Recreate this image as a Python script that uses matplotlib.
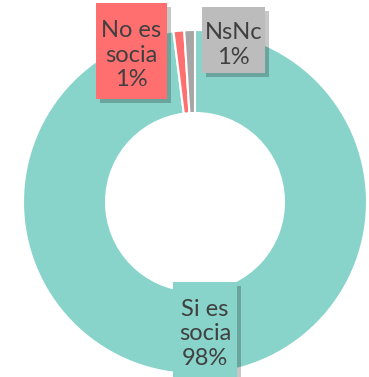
import matplotlib.pyplot as plt
import matplotlib.patheffects as pe
from matplotlib.patches import Rectangle

# share of respondents by membership
categories = ["Si es socia", "No es socia", "NsNc"]
shares = [98, 1, 1]
pct_labels = ["98%", "1%", "1%"]
wedge_colors = ["#88d4ca", "#ff6f6f", "#a6a6a6"]
box_colors = ["#88d4ca", "#ff6f6f", "#bcbcbc"]

W, H = 369, 377
fig = plt.figure(figsize=(W / 100, H / 100), dpi=100)
ax = fig.add_axes([0, 0, 1, 1])

# donut, clockwise from the top
ax.pie(shares, colors=wedge_colors, startangle=90, counterclock=False,
       center=(195, 175), radius=172, frame=True,
       wedgeprops=dict(width=83, edgecolor="white", linewidth=1.5))
ax.set_xlim(0, W)
ax.set_ylim(0, H)
ax.set_aspect("equal")
ax.axis("off")

# label boxes (x0, y0, w, h) in pixel units, y measured from the bottom
boxes = [(173, -5, 64, 100), (96, 278, 71, 96), (202, 304, 63, 66)]
text_pos = [(205, 43), (131.5, 322), (233.5, 332)]
names = ["Si es\nsocia", "No es\nsocia", "NsNc"]

shadow = [pe.SimplePatchShadow(offset=(3, -3), shadow_rgbFace="black", alpha=0.22),
          pe.Normal()]
for i in range(len(categories)):
    x0, y0, w, h = boxes[i]
    r = Rectangle((x0, y0), w, h, facecolor=box_colors[i], edgecolor="none", zorder=5)
    r.set_path_effects(shadow)
    ax.add_patch(r)
    ax.text(text_pos[i][0], text_pos[i][1], names[i] + "\n" + pct_labels[i],
            ha="center", va="center", fontsize=17, family="Lato",
            color="#404040", linespacing=1.2, zorder=6)

fig.savefig("out.png", dpi=100)
